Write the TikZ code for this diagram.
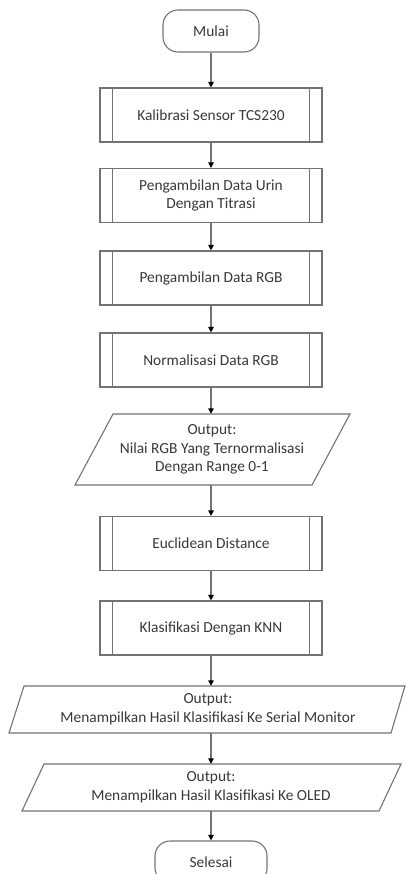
\documentclass[tikz,border=0pt]{standalone}
\usepackage{fontspec}
\setmainfont{Carlito}
\usetikzlibrary{arrows.meta,calc}
\definecolor{linec}{gray}{0.45}
\definecolor{textc}{gray}{0.22}
\tikzset{
  base/.style={inner sep=0pt, align=center, text=textc,
    font=\fontsize{15.4}{18.8}\selectfont},
  proc/.style={base, draw=linec, line width=1.1pt,
    minimum width=222pt, minimum height=54pt},
  term/.style={base, draw=linec, line width=1.1pt, rounded corners=15pt,
    minimum height=42pt},
  io/.style={base, minimum height=#1},
  flow/.style={draw=linec, line width=1.1pt,
    -{Triangle[length=5.5pt,width=5.5pt,color=black]}},
  shapeline/.style={draw=linec, line width=1.1pt}
}
\begin{document}
\begin{tikzpicture}[x=1pt,y=-1pt]
\useasboundingbox (0,0) rectangle (406,874);

% terminals
\node[term, minimum width=96pt] (start) at (211,31) {Mulai};
\node[term, minimum width=112pt] (stop) at (211,862) {Selesai};

% predefined processes
\node[proc] (cal)  at (211,115)   {Kalibrasi Sensor TCS230};
\node[proc] (urin) at (211,195.5) {Pengambilan Data Urin\\Dengan Titrasi};
\node[proc] (rgb)  at (211,278)   {Pengambilan Data RGB};
\node[proc] (norm) at (211,360)   {Normalisasi Data RGB};
\node[proc] (euc)  at (211,543.5) {Euclidean Distance};
\node[proc] (knn)  at (211,628)   {Klasifikasi Dengan KNN};

% side bars of the predefined processes
\foreach \n in {cal,urin,rgb,norm,euc,knn}{
  \draw[shapeline] ($(\n.north west)+(13,0)$) -- ($(\n.south west)+(13,0)$);
  \draw[shapeline] ($(\n.north east)+(-13,0)$) -- ($(\n.south east)+(-13,0)$);
}

% data (output) parallelograms
\node[io=71pt] (out1) at (212,449.5) {Output:\\Nilai RGB Yang Ternormalisasi\\Dengan Range 0-1};
\draw[shapeline] (113,414) -- (350,414) -- (312,485) -- (75,485) -- cycle;

\node[io=47pt] (out2) at (208,709.5) {Output:\\Menampilkan Hasil Klasifikasi Ke Serial Monitor};
\draw[shapeline] (24,686) -- (405,686) -- (391,733) -- (9,733) -- cycle;

\node[io=47pt] (out3) at (211,787.5) {Output:\\Menampilkan Hasil Klasifikasi Ke OLED};
\draw[shapeline] (44,764) -- (401,764) -- (379,811) -- (22,811) -- cycle;

% connectors
\draw[flow] (start.south) -- (cal.north);
\draw[flow] (cal.south) -- (urin.north);
\draw[flow] (urin.south) -- (rgb.north);
\draw[flow] (rgb.south) -- (norm.north);
\draw[flow] (norm.south) -- ($(out1.north)+(-1,0)$);
\draw[flow] ($(out1.south)+(-1,0)$) -- (euc.north);
\draw[flow] (euc.south) -- (knn.north);
\draw[flow] (knn.south) -- ($(out2.north)+(3,0)$);
\draw[flow] ($(out2.south)+(3,0)$) -- (out3.north);
\draw[flow] (out3.south) -- (stop.north);
\end{tikzpicture}
\end{document}
